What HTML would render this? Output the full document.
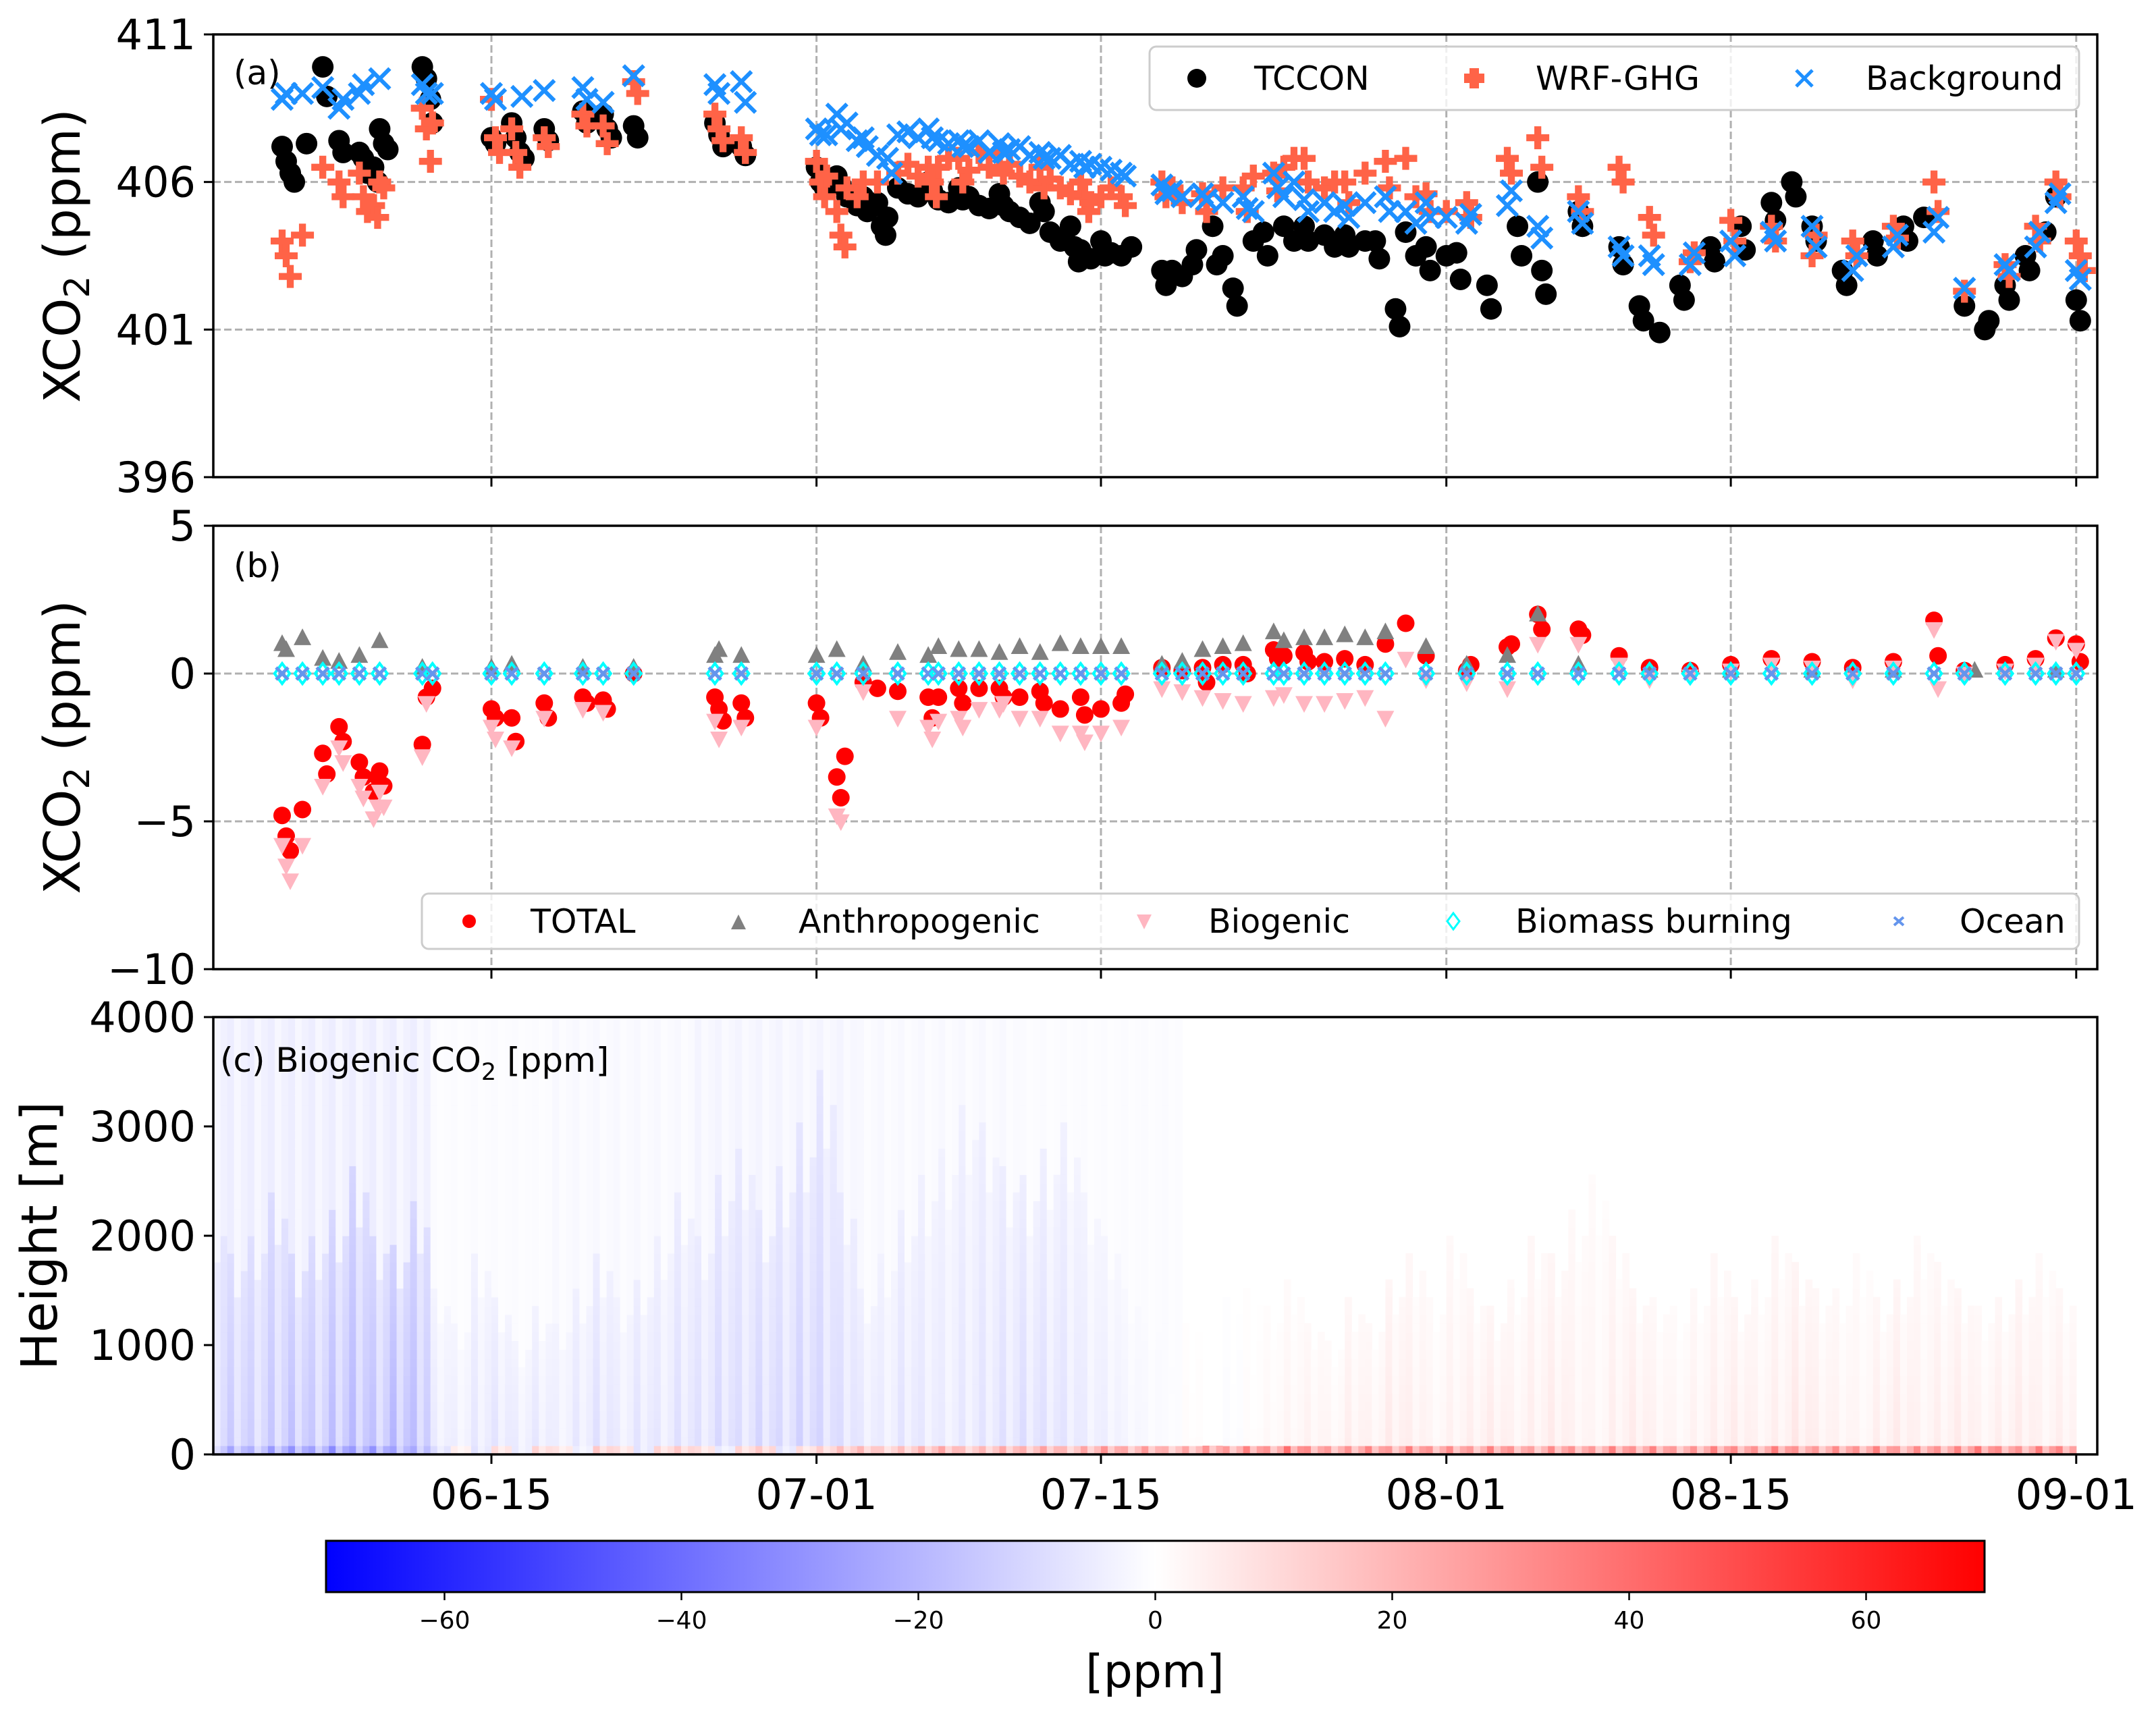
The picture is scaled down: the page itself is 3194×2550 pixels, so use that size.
<!DOCTYPE html>
<html><head><meta charset="utf-8"><style>
html,body{margin:0;padding:0;background:#fff}
svg{display:block;font-family:"DejaVu Sans","Liberation Sans",sans-serif}
</style></head><body>
<svg id="fig" width="3194" height="2550" viewBox="0 0 3194 2550" xmlns="http://www.w3.org/2000/svg">
<defs>
<clipPath id="clipC"><rect x="316" y="1507" width="2791" height="648"/></clipPath>
<linearGradient id="bwr" x1="0" x2="1" y1="0" y2="0">
<stop offset="0" stop-color="#0000ff"/><stop offset="0.5" stop-color="#ffffff"/><stop offset="1" stop-color="#ff0000"/>
</linearGradient>
</defs>
<g id="gridA"></g>
<g id="gridB"></g>
<g id="heat" clip-path="url(#clipC)"></g>
<g id="marksA"></g>
<g id="marksB"></g>
<g id="axes"></g>
<text x="346" y="125" font-size="50">(a)</text>
<text x="346" y="855" font-size="50">(b)</text>
<text x="326" y="1588" font-size="50">(c) Biogenic CO<tspan font-size="35" dy="12">2</tspan><tspan dy="-12"> [ppm]</tspan></text>
<text transform="translate(118,379) rotate(-90)" text-anchor="middle" font-size="74">XCO<tspan font-size="52" dy="14">2</tspan><tspan dy="-14"> (ppm)</tspan></text>
<text transform="translate(118,1107) rotate(-90)" text-anchor="middle" font-size="74">XCO<tspan font-size="52" dy="14">2</tspan><tspan dy="-14"> (ppm)</tspan></text>
<text transform="translate(84,1831) rotate(-90)" text-anchor="middle" font-size="74">Height [m]</text>
<g>
<rect x="1703" y="69" width="1377" height="94" rx="10" fill="#fff" fill-opacity="0.8" stroke="#cccccc" stroke-width="3"/>
<g><circle cx="1773" cy="116" r="14" fill="#000"/><text x="1858" y="133" font-size="49">TCCON</text></g>
<g><rect x="2177" y="101" width="14" height="30" fill="#ff6347"/><rect x="2169" y="109" width="30" height="14" fill="#ff6347"/><text x="2275" y="133" font-size="49">WRF-GHG</text></g>
<g><path d="M2661 104l24 24M2685 104l-24 24" stroke="#1e90ff" stroke-width="5"/><text x="2764" y="133" font-size="49">Background</text></g>
</g>
<g>
<rect x="625" y="1324" width="2455" height="82" rx="10" fill="#fff" fill-opacity="0.8" stroke="#cccccc" stroke-width="3"/>
<g><circle cx="695" cy="1365" r="10" fill="#ff0000"/><text x="786" y="1382" font-size="49">TOTAL</text></g>
<g><path d="M1083 1377l11-22l11 22z" fill="#808080"/><text x="1183" y="1382" font-size="49">Anthropogenic</text></g>
<g><path d="M1684 1355l22 0l-11 22z" fill="#ffb6c1"/><text x="1790" y="1382" font-size="49">Biogenic</text></g>
<g><path d="M2153 1353l9 12l-9 12l-9-12z" fill="none" stroke="#00ffff" stroke-width="3"/><text x="2245" y="1382" font-size="49">Biomass burning</text></g>
<g><path d="M2806 1359l14 12M2820 1359l-14 12" stroke="#6495ed" stroke-width="4"/><text x="2903" y="1382" font-size="49">Ocean</text></g>
</g>
<g id="cbar">
<rect x="483" y="2283" width="2457" height="76" fill="url(#bwr)" stroke="#000" stroke-width="3"/>
</g>
<text x="1711" y="2500" text-anchor="middle" font-size="68">[ppm]</text>
</svg>
<script>
// days relative to June 15
const dateTicks = [0, 16, 30, 47, 61, 78];
const dateLabels = ["06-15", "07-01", "07-15", "08-01", "08-15", "09-01"];
const yTicksA = [396, 401, 406, 411];
const yTicksB = [-10, -5, 0, 5];
const yTicksC = [0, 1000, 2000, 3000, 4000];
const cbarTicks = [-60, -40, -20, 0, 20, 40, 60];

const tcconDays = [-10.3,-9.1,-8.3,-7.5,-6.5,-5.8,-5.5,-3.4,-2.9,0,1,2.6,4.5,5.5,7,11,12.3,16,17,18.3,19,21.5,23,25,27,28.5,30,31,33,34.5,35.5,36.5,38,40,42,43.5,44.5,46,47.5,49,50.5,51.5,53.5,55.5,56.5,57.5,58.5,60,61.5,63,64,65,66.5,68,69.5,70.5,72.5,73.5,74.5,75.5,76.5,77,78,
 16.5,17.5,18,19.5,20,20.5,21,22,22.5,23.5,24,24.5,25.5,26,26.5,27.5,28,29,29.5,30.5,31.5,33.5,34,36,37.5,39,39.5,41,41.5,43,45,45.5,47];
const tcconVals = [[407.2,406.7,406.3,406.0],[407.3],[409.9,408.9],[407.4,407.0],[407.0,406.8,406.3],[406.5,406.0],[407.8,407.3,407.1],[409.9,409.5,408.8],[408.0],[407.5,407.3],[408.0,407.5,407.0,406.8],[407.8,407.4],[408.4,408.0],[408.3,407.8,407.5],[407.9,407.5],[408.0,407.6,407.2],[407.2,406.9],[406.5,406.0,405.8],[406.2,405.9],[405.5,405.0],[405.3,404.5,404.2],[406.0,405.7],[405.8,405.4],[405.6,405.2],[405.3,405.0],[404.5,403.8,403.3],[404.0,403.5],[403.5],[403.0,402.5],[403.2,403.7],[404.5,403.2],[402.4,401.8],[404.3,403.5],[404.5,404.0],[404.2,403.8],[404.0,403.4],[401.7,401.1],[403.8,403.0],[403.6,402.7],[402.5,401.7],[404.5,403.5],[406.0,403.0,402.2],[405.0,404.5],[403.8,403.2],[401.8,401.3],[400.9],[402.5,402.0],[403.8,403.3],[404.5,403.7],[405.3,404.7],[406.0,405.5],[404.5,404.0],[403.0,402.5],[404.0,403.5],[404.5,404.0],[404.8],[401.8],[401.0,401.3],[402.5,402.0],[403.5,403.0],[404.3],[405.5],[402.0,401.3],
 [405.9],[405.5],[405.2],[404.8],[405.8],[405.6],[405.5],[405.4],[405.3],[405.5],[405.2],[405.1],[405.0],[404.8],[404.6],[404.3],[404.0],[403.7],[403.4],[403.6],[403.8],[403.0],[402.8],[403.5],[404.0],[404.5],[404.0],[404.2],[403.8],[404.0],[404.3],[403.5],[403.5]];

const wrfDays = [-10.3,-9.3,-8.3,-7.5,-6.5,-5.8,-5.5,-3.4,-2.9,0,1,2.6,4.5,5.5,7,11,12.3,16,17,18.3,21.5,23,25,27,29,31,33,35,37,38.5,40,42,44,46,48,50,51.5,53.5,55.5,57,59,61,63,65,67,69,71,72.5,74.5,76,77,78,
 16.5,17.5,18,19,20,20.5,21,22,22.5,23.5,24,24.5,25.5,26,26.5,27.5,28,28.5,29.5,30,30.5,33.5,34,36,37.5,39,39.5,41,41.5,43,45,45.5,47];
const wrfVals = [[404.0,403.5,402.8],[404.2],[406.5],[406.0,405.5],[406.3,405.5,405.0],[405.2,404.8],[406.0,405.8],[408.5,407.8,406.7],[408.0],[408.8,407.5,407.0],[407.8,407.0,406.5],[407.5,407.2],[408.3,407.9],[407.9,407.3],[409.4,409.0],[408.3,407.8,407.4],[407.5,407.0],[406.7,406.0,405.5],[405.0,404.2,403.8],[406.0],[406.5,406.0,405.5],[406.8,406.0],[407.0,406.3],[406.5,405.8],[406.0,405.5,405.0],[405.5,405.2],[406.0,405.5],[405.6,405.0],[405.8,405.0],[406.3,405.7],[406.8,406.0],[406.0,405.3],[406.7,405.8],[405.6,405.0],[405.3,404.8],[406.8,406.3],[407.5,406.5],[405.5,405.0],[406.5,406.0],[404.8,404.2],[403.3,403.6],[404.7,404.0],[404.5,404.0],[403.5,404.2],[404.0,403.5],[404.5,404.1],[406.0,405.0],[402.3],[403.2,402.8],[404.5,404.0],[406.0,405.5],[404.0,403.5,403.0],
 [406.2],[405.8],[405.5],[406.0],[406.3],[406.6],[406.2],[406.5],[406.8],[406.4],[407.0],[406.5],[406.6],[406.2],[406.0],[406.1],[405.8],[405.6],[405.3],[405.5],[405.8],[405.8],[405.3],[405.8],[406.2],[406.5],[406.8],[405.8],[406.0],[406.3],[406.8],[405.5],[405.0]];

const bgDays = [-10.3,-9.3,-8.3,-7.5,-6.5,-5.5,-3.4,-2.9,0,1.5,2.6,4.5,5.5,7,11,12.3,16,17,18.3,19.5,21.5,23,25,27,29,31,33,35,37,38.5,40,42,44,46,48,50,51.5,53.5,55.5,57,59,61,63,65,67,69,71,72.5,74.5,76,77,78,
 16.5,17.5,18,19,20,20.5,21,22,22.5,23.5,24,24.5,25.5,26,26.5,27.5,28,28.5,29.5,30,30.5,33.5,34,36,37.5,39,39.5,41,41.5,43,45,45.5,47];
const bgVals = [[408.8,409.0],[409.0],[409.2],[408.5,408.8],[409.0,409.3],[409.5],[409.3,409.0],[409.0],[409.0,408.8],[408.9],[409.1],[409.2,408.8],[408.7],[409.6],[409.3,409.0],[409.4,408.7],[407.8,407.6],[408.3,407.8],[407.5,407.2],[406.8,406.3],[407.8,407.5],[407.4,407.2],[407.3,407.0],[407.0,406.8],[406.7,406.5],[406.3,406.2],[405.9,405.6],[405.6,405.4],[405.5,405.1],[406.3,405.8],[405.4,405.0],[405.2,404.8],[405.5,405.0],[405.3,404.8],[404.6,404.9],[405.2,405.7],[404.5,404.1],[405.0,404.6],[403.8,403.5],[403.5,403.2],[403.2,403.6],[404.0,403.5],[404.3,404.0],[404.5,403.8],[403.0,403.5],[403.8,404.2],[404.3,404.8],[402.4],[403.2,403.0],[403.8,404.3],[405.3,405.6],[403.0,402.7],
 [407.6],[408.0],[407.4],[406.9],[407.6],[407.7],[407.5],[407.4],[407.3],[407.2],[407.4],[407.0],[407.1],[407.2],[406.9],[406.8],[406.9],[406.6],[406.6],[406.5],[406.4],[405.7],[405.5],[405.3],[405.0],[405.5],[406.0],[405.3],[405.0],[405.3],[405.0],[404.6],[404.8]];

const totDays = [-10.3,-9.3,-8.3,-7.5,-6.5,-5.8,-5.5,-3.4,-2.9,0,1,2.6,4.5,5.5,7,11,12.3,16,17,18.3,19,21.5,23,25,27,29,31,33,35,37,38.5,40,42,44,45,46,48,50,51.5,53.5,55.5,57,59,61,63,65,67,69,71,72.5,74.5,76,77,78, 20,22,24,26,28,30,34,36,39,41,43];
const totVals = [[-4.8,-5.5,-6.0],[-4.6],[-2.7,-3.4],[-1.8,-2.3],[-3.0,-3.5],[-4.0,-3.5],[-3.3,-3.8],[-2.4,-0.8],[-0.5],[-1.2,-1.5],[-1.5,-2.3],[-1.0,-1.5],[-0.8,-1.0],[-0.9,-1.2],[0],[-0.8,-1.2,-1.6],[-1.0,-1.5],[-1.0,-1.5],[-3.5,-4.2,-2.8],[-0.3],[-0.5],[-0.8,-1.5],[-0.5,-1.0],[-0.5,-0.8],[-0.6,-1.0],[-0.8,-1.4],[-1.0,-0.7],[0.2],[0.2,-0.3],[0.3,0],[0.8,0.5],[0.7,0.4],[0.5],[1.0],[1.7],[0.6],[0.1,0.3],[0.9,1.0],[2.0,1.5],[1.5,1.3],[0.6],[0.2],[0.1],[0.3],[0.5],[0.4],[0.2],[0.4],[1.8,0.6],[0.1],[0.3],[0.5],[1.2],[1.0,0.4],
 [-0.6],[-0.8],[-0.5],[-0.8],[-1.2],[-1.2],[0.1],[0.3],[0.6],[0.4],[0.3]];

const bioPtDays = [-10.3,-9.3,-8.3,-7.5,-6.5,-5.8,-5.5,-3.4,0,1,2.6,4.5,5.5,11,12.3,16,17,18.3,21.5,23,25,27,29,31,33,35,37,38.5,40,42,44,45,46,48,50,51.5,53.5,55.5,57,59,61,63,65,67,69,71,72.5,74.5,76,77,78, 20,22,24,26,28,30,34,36,39,41,43];
const bioPtVals = [[-5.8,-6.5,-7.0],[-5.8],[-3.8],[-2.5,-3.0],[-3.8,-4.2],[-4.9,-4.5],[-4.0,-4.5],[-2.8,-1.0],[-1.8,-2.2],[-2.5],[-1.5],[-1.2],[-1.3],[-1.6,-2.2],[-1.8],[-1.8],[-4.8,-5.0],[-0.6],[-1.8,-2.2],[-1.5,-1.8],[-1.2,-1.0],[-1.5],[-2.0,-2.3],[-1.8],[-0.5],[-0.8],[-1.0],[-0.8],[-1.0],[-0.9],[-1.5],[0.5],[-0.2],[-0.3],[-0.5],[1.0],[1.0],[0.3],[-0.2],[-0.1],[0.1],[0.3],[0.2],[-0.2],[0.2],[1.5,-0.5],[0],[0.1],[0.3],[1.1],[0.8],
 [-1.5],[-1.6],[-1.2],[-1.5],[-2.0],[-2.0],[-0.6],[-0.9],[-0.7],[-1.0],[-0.8]];

const antDays = [-10.3,-9.3,-8.3,-7.5,-6.5,-5.5,-3.4,0,1,4.5,7,11,12.3,16,17,18.3,21.5,23,25,27,29,31,33,35,37,38.5,40,42,44,46,48,50,51.5,53.5,57,61,65,69,73,77, 20,22,24,26,28,30,34,36,39,41,43];
const antVals = [[1.0,0.8],[1.2],[0.5],[0.4],[0.6],[1.1],[0.2],[0.2],[0.3],[0.2],[0.2],[0.6,0.8],[0.6],[0.6],[0.8],[0.3],[0.6],[0.8],[0.7],[0.7],[0.9],[0.9],[0.3],[0.8],[1.0],[1.4],[1.2],[1.3],[1.4],[0.9],[0.3],[0.6],[2.0],[0.3],[0.1],[0.1],[0.1],[0.1],[0.1],[0.1],
 [0.7],[0.9],[0.8],[0.9],[1.0],[0.9],[0.4],[0.9],[1.1],[1.2],[1.2]];

const zeroDays = [-10.3,-9.3,-8.3,-7.5,-6.5,-5.5,-3.4,-2.9,0,1,2.6,4.5,5.5,7,11,12.3,16,17,18.3,20,21.5,22,23,24,25,26,27,28,29,30,31,33,34,35,36,37,38.5,39,40,41,42,43,44,46,48,50,51.5,53.5,55.5,57,59,61,63,65,67,69,71,72.5,74.5,76,77,78];
const biomassVals = zeroDays.map(()=>0);
const oceanVals = zeroDays.map(()=>0);

// heatmap: one entry per day from day -14 to 78
const heatStartDay = -14;
const bioLow = [-13,-15,-14,-16, -18,-16,-19,-20,-18,-21,-19, -6,-5,-7,-8,-6,-7, -5,-7,-9,-6,-8,-7,-9, -9,-11,-10,-12,-11,-13,-12,-10, -7,-6,-8,-7,-6,-7,-8,-9, -10,-9,-8,-6,-5,-3,-2,-1, 1,0,-1,1,2,3,4,3, 5,4,6,5,3,4,5,6, 4,5,6,4,3,5,6,4, 3,4,5,6,4,5,7,5, 4,3,5,6,4,5,6,4, 5,6,4,5,3];
const bioPbl = [2200,1800,2000,2400, 1800,2000,2200,2600,2000,1900,2300, 1500,1200,1800,1400,1000,1300, 1200,1500,1800,1400,1600,2000,2400, 2000,2500,2800,2200,2600,3000,3500,2400, 1500,1800,2200,2500,2800,3200,3000,2600, 2500,2800,3000,2400,2000,1500,1200,1000, 1200,1000,1400,1500,1300,1600,1200,1000, 1400,1200,1600,1800,1400,2000,1500,1300, 1600,2000,1800,2200,2500,2000,1500,1400, 1300,1500,1800,1400,1600,2000,1700,1500, 1500,1800,1400,1600,2000,1700,1500,1300, 1400,1600,1800,1500,1200];
const bioHigh = [-5,-5,-5,-5,-5,-5,-5,-5,-5,-5,-5, -1,-1,-1,-1,-1,-1, -2,-2,-2,-2,-2,-2,-2, -3,-3,-3,-3,-3,-3,-3,-3, -2,-2,-2,-2,-2,-2,-2,-2, -1,-1,-1,-1,-1,-1,-1,-1, 0,0,0,0,0,0,0,0, 0,0,0,0,0,0,0,0, 0,0,0,0,0,0,0,0, 0,0,0,0,0,0,0,0, 0,0,0,0,0,0,0,0, 0,0,0,0,0];
const bioSurf = [-20,-25,-22,-28, -30,-26,-32,-28,-30,-26,-24, -10,5,-8,10,-6,12, 8,-5,15,10,-8,12,15, 10,-6,12,15,-8,10,14,18, 20,15,18,22,25,18,20,24, 22,26,20,25,30,24,28,22, 25,30,28,35,30,40,32,28, 30,34,28,36,30,32,28,35, 30,26,32,30,28,35,30,34, 28,30,35,32,30,36,30,28, 32,30,35,28,32,30,34,38, 32,30,36,34,30];

const SVGNS = "http://www.w3.org/2000/svg";
const AX = {l:316, r:3107};
const X = d => 728 + d*30.1;
const YA = v => 707 - (v-396)*(656/15);
const YB = v => 1436 - (v+10)*(657/15);
const YC = h => 2155 - h*(648/4000);
function el(tag, attrs, parent){const e=document.createElementNS(SVGNS,tag);for(const k in attrs)e.setAttribute(k,attrs[k]);parent.appendChild(e);return e;}

const gridA=document.getElementById('gridA'), gridB=document.getElementById('gridB');
const axes=document.getElementById('axes'), heat=document.getElementById('heat');
const mA=document.getElementById('marksA'), mB=document.getElementById('marksB');

dateTicks.forEach(d=>{
  [[51,707,gridA],[779,1436,gridB]].forEach(([t,b,g])=>{
    const ln=el('line',{x1:X(d),x2:X(d),y1:t,y2:b,stroke:'#b0b0b0','stroke-width':3,'stroke-dasharray':'11,5'},g);
    
    
  });
});
[401,406].forEach(v=>{const ln=el('line',{x1:AX.l,x2:AX.r,y1:YA(v),y2:YA(v),stroke:'#b0b0b0','stroke-width':3,'stroke-dasharray':'11,5'},gridA);

});
[-5,0].forEach(v=>{const ln=el('line',{x1:AX.l,x2:AX.r,y1:YB(v),y2:YB(v),stroke:'#b0b0b0','stroke-width':3,'stroke-dasharray':'11,5'},gridB);

});

function bwr(v){let t=Math.max(-1,Math.min(1,v/70));
  if(t<0){const c=Math.round(255*(1+t));return `rgb(${c},${c},255)`;}
  const c=Math.round(255*(1-t));return `rgb(255,${c},${c})`;}
const subWeights = [1.0, 0.45, 0.75];
const hBin=80;
bioLow.forEach((low,i)=>{
  const d=heatStartDay+i;
  subWeights.forEach((w,k)=>{
    const ds=d+k/3, de=Math.min(d+(k+1)/3,78);
    if(de<=ds) return;
    const x0=Math.max(AX.l,X(ds)), x1=Math.min(X(de),AX.r);
    if(x1<=x0) return;
    const top=bioPbl[i]*(0.6+0.4*w);
    for(let h=0;h<4000;h+=hBin){
      let v;
      if(h<60) v=bioSurf[i]*w;
      else if(h<top) v=low*w*(1-0.6*h/top)+bioHigh[i]*0.6*h/top;
      else v=bioHigh[i]*w;
      if(Math.abs(v)<0.3) continue;
      const r=el('rect',{x:x0,y:YC(h+hBin),width:x1-x0+0.6,height:YC(h)-YC(h+hBin)+0.6,fill:bwr(v)},heat);
      
      
    }
  });
});

function plotClusters(days,vals,Y,draw,name,g){
  days.forEach((d,i)=>{vals[i].forEach((v,j)=>{
    const n=draw(X(d+j*0.2),Y(v),g);
    
    
  });});
}
const circ=(r,f)=>(x,y,g)=>el('circle',{cx:x,cy:y,r:r,fill:f},g);
const plus=(s,f)=>(x,y,g)=>{const a=s/3.3;return el('path',{d:`M${x-a} ${y-s}h${2*a}v${s-a}h${s-a}v${2*a}h${-(s-a)}v${s-a}h${-2*a}v${-(s-a)}h${-(s-a)}v${-2*a}h${s-a}z`,fill:f},g);};
const cross=(s,c,w)=>(x,y,g)=>el('path',{d:`M${x-s} ${y-s}L${x+s} ${y+s}M${x+s} ${y-s}L${x-s} ${y+s}`,stroke:c,'stroke-width':w,fill:'none'},g);
const triU=(s,f)=>(x,y,g)=>el('path',{d:`M${x-s} ${y+s*0.8}L${x} ${y-s*1.1}L${x+s} ${y+s*0.8}z`,fill:f},g);
const triD=(s,f)=>(x,y,g)=>el('path',{d:`M${x-s} ${y-s*0.8}L${x} ${y+s*1.1}L${x+s} ${y-s*0.8}z`,fill:f},g);
const diam=(s,c)=>(x,y,g)=>el('path',{d:`M${x} ${y-s}L${x+s*0.75} ${y}L${x} ${y+s}L${x-s*0.75} ${y}z`,fill:'none',stroke:c,'stroke-width':4},g);

plotClusters(tcconDays,tcconVals,YA,circ(16,'#000'),'tccon-point',mA);
plotClusters(wrfDays,wrfVals,YA,plus(17,'#ff6347'),'wrf-ghg-point',mA);
plotClusters(bgDays,bgVals,YA,cross(15,'#1e90ff',6),'background-point',mA);

plotClusters(totDays,totVals,YB,circ(13,'#ff0000'),'total-point',mB);
plotClusters(antDays,antVals,YB,triU(13,'#808080'),'anthropogenic-point',mB);
plotClusters(bioPtDays,bioPtVals,YB,triD(13,'#ffb6c1'),'biogenic-point',mB);
zeroDays.forEach((d,i)=>{
  const n=diam(15,'#00ffff')(X(d),YB(biomassVals[i]),mB);
  
  
  const o=cross(9,'#6495ed',5)(X(d),YB(oceanVals[i]),mB);
  
  
});

[[51,707],[779,1436],[1507,2155]].forEach(([t,b])=>{
  const f=el('rect',{x:AX.l,y:t,width:AX.r-AX.l,height:b-t,fill:'none',stroke:'#000','stroke-width':3.5},axes);
  
  
  dateTicks.forEach(d=>{
    const tk=el('line',{x1:X(d),x2:X(d),y1:b,y2:b+14,stroke:'#000','stroke-width':3},axes);
    
    
  });
});
dateTicks.forEach((d,i)=>{
  const t=el('text',{x:X(d),y:2236,'text-anchor':'middle','font-size':62},axes);
  t.textContent=dateLabels[i];
  
  
});
function yTicks(ticks,Y,fmt){
  ticks.forEach(v=>{
    const tk=el('line',{x1:AX.l-14,x2:AX.l,y1:Y(v),y2:Y(v),stroke:'#000','stroke-width':3},axes);
    
    
    const t=el('text',{x:AX.l-26,y:Y(v)+22,'text-anchor':'end','font-size':62},axes);
    t.textContent=fmt(v);
    
    
  });
}
yTicks(yTicksA,YA,v=>String(v));
yTicks(yTicksB,YB,v=>v<0?'\u2212'+Math.abs(v):String(v));
yTicks(yTicksC,YC,v=>String(v));

const cb=document.getElementById('cbar');
const CX=v=>483+(v+70)/140*2457;
cbarTicks.forEach(v=>{
  const tk=el('line',{x1:CX(v),x2:CX(v),y1:2359,y2:2371,stroke:'#000','stroke-width':2.5},cb);
  
  
  const t=el('text',{x:CX(v),y:2413,'text-anchor':'middle','font-size':36},cb);
  t.textContent=v<0?'\u2212'+Math.abs(v):String(v);
  
  
});
</script>
</body></html>
